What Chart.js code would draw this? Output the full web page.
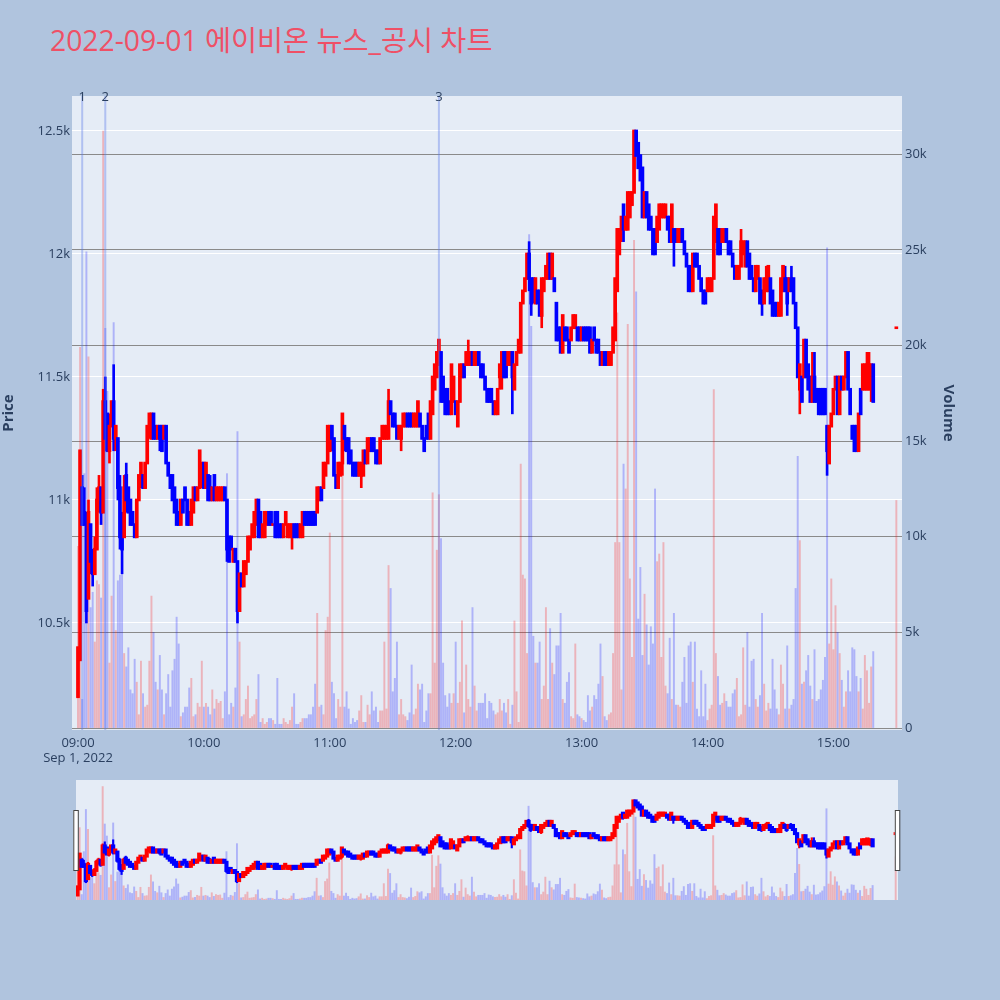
<!DOCTYPE html>
<html><head><meta charset="utf-8">
<script src="https://cdn.jsdelivr.net/npm/chart.js@4.4.1/dist/chart.umd.min.js"></script>
<style>
html,body{margin:0;padding:0;background:#b0c4de;width:1000px;height:1000px;overflow:hidden;}
#title{position:absolute;left:50px;top:26px;font-family:'Open Sans','Noto Sans CJK KR',sans-serif;font-size:28.3px;line-height:28px;color:#ef5066;white-space:nowrap;}
#main{position:absolute;left:0;top:0;}
#slider{position:absolute;left:0;top:780px;}
</style></head><body>
<div id="title">2022-09-01 에이비온 뉴스_공시 차트</div>
<canvas id="main" width="1000" height="780"></canvas>
<canvas id="slider" width="1000" height="120"></canvas>
<script>
// ---------- data (1-minute candles, 09:00 .. 15:19, plus 15:30 closing auction) ----------
const sessionStart = '09:00';
const auctionTime = '15:30';
const dateLabel = 'Sep 1, 2022';
const xTickLabels = ['09:00','10:00','11:00','12:00','13:00','14:00','15:00'];
const priceTicks = [10500, 11000, 11500, 12000, 12500];
const volumeTicksK = [0, 5, 10, 15, 20, 25, 30];
const newsTimes = ['09:02', '09:13', '11:52'];
const newsLabels = ['1', '2', '3'];

const open = [
10200,10350,11050,10950,10900,10600,10900,10750,10700,10800,
11000,11050,10950,11400,11350,11200,11300,11400,11250,11250,
11050,10900,10850,11100,11050,11000,10950,10900,10850,11000,
11100,11100,11050,11150,11300,11250,11350,11300,11250,11300,
11300,11250,11300,11150,11100,11100,11050,11000,10950,10900,
11000,11050,11000,10950,10900,10950,11050,11000,11050,11100,
11150,11050,11100,11050,11000,11100,11000,11000,11000,11000,
11050,11000,10850,10850,10750,10800,10750,10550,10700,10650,
10700,10750,10800,10850,10850,10900,11000,10950,10850,10850,
10900,10950,10950,10900,10950,10950,10900,10900,10850,10900,
10850,10850,10850,10900,10900,10900,10850,10850,10950,10950,
10950,10950,10950,10950,10950,11000,11050,11050,11100,11150,
11200,11300,11250,11100,11050,11100,11150,11300,11250,11250,
11200,11150,11150,11150,11100,11100,11100,11200,11150,11200,
11250,11250,11200,11200,11150,11250,11250,11250,11250,11400,
11350,11350,11300,11250,11250,11300,11300,11350,11350,11350,
11300,11300,11300,11350,11300,11250,11300,11350,11250,11350,
11450,11500,11550,11600,11500,11450,11450,11400,11350,11400,
11400,11300,11400,11500,11550,11550,11550,11550,11600,11550,
11550,11600,11550,11550,11500,11450,11450,11450,11400,11350,
11350,11500,11500,11600,11600,11550,11550,11600,11450,11550,
11600,11600,11800,11850,11900,12000,11900,11900,11800,11850,
11850,11750,11850,11900,11900,12000,11900,11900,11800,11700,
11700,11600,11700,11700,11650,11650,11700,11700,11700,11700,
11650,11700,11700,11700,11700,11600,11700,11650,11650,11600,
11550,11600,11600,11550,11550,11600,11650,11850,12000,12100,
12200,12100,12100,12150,12200,12250,12500,12450,12400,12350,
12150,12250,12200,12150,12100,12100,12050,12100,12150,12150,
12150,12150,12150,12050,12100,12100,12050,12050,12100,12050,
12000,11950,11950,11850,12000,12000,11950,11900,11850,11850,
11850,11850,11850,11900,12050,12100,12100,12050,12050,12100,
12050,12050,12000,11950,11900,11900,11950,12000,11950,12050,
12000,11950,11900,11850,11900,11900,11850,11800,11850,11850,
11900,11850,11800,11800,11750,11750,11850,11900,11900,11850,
11900,11900,11800,11700,11450,11500,11500,11650,11550,11500,
11400,11500,11450,11450,11450,11450,11450,11300,11150,11300,
11350,11450,11500,11350,11500,11450,11500,11600,11450,11300,
11300,11300,11200,11450,11450,11450,11450,11450,11450,11550,
11700];
const high = [
10400,11200,11100,11050,10950,11000,10900,10800,10850,11050,
11100,11050,11450,11500,11350,11350,11400,11550,11300,11250,
11100,10950,11100,11150,11050,11000,10950,10900,11000,11100,
11150,11100,11150,11300,11350,11350,11350,11300,11300,11300,
11300,11300,11300,11150,11100,11100,11050,11000,10950,11000,
11000,11050,11000,10950,11000,11050,11050,11050,11200,11150,
11150,11150,11100,11100,11050,11100,11050,11050,11050,11050,
11050,11000,10850,10850,10800,10800,10750,10700,10700,10750,
10750,10850,10850,10900,10950,11000,11000,10950,10900,10950,
10950,10950,10950,10900,10950,10950,10900,10900,10900,10950,
10900,10900,10900,10900,10900,10900,10900,10950,10950,10950,
10950,10950,10950,10950,11050,11050,11050,11150,11150,11300,
11300,11300,11250,11100,11150,11150,11350,11300,11250,11250,
11200,11150,11150,11150,11150,11150,11200,11200,11250,11250,
11250,11250,11200,11200,11250,11300,11300,11300,11450,11400,
11350,11350,11300,11300,11300,11350,11350,11350,11350,11350,
11350,11350,11400,11350,11300,11250,11300,11350,11400,11500,
11550,11600,11650,11600,11500,11450,11450,11400,11550,11500,
11400,11400,11550,11550,11550,11600,11650,11600,11600,11600,
11600,11600,11550,11550,11500,11450,11450,11450,11400,11400,
11450,11550,11600,11600,11600,11600,11600,11600,11550,11600,
11650,11800,11850,11900,12000,12050,11900,11900,11900,11850,
11850,11900,11900,11950,12000,12000,12000,11900,11800,11700,
11700,11750,11700,11700,11650,11700,11750,11750,11700,11700,
11700,11700,11700,11700,11700,11650,11700,11650,11650,11600,
11600,11600,11600,11600,11600,11700,11900,12100,12100,12150,
12200,12150,12250,12250,12250,12500,12500,12450,12400,12350,
12250,12250,12200,12150,12100,12100,12150,12200,12200,12200,
12200,12150,12150,12200,12100,12100,12100,12100,12100,12050,
12000,11950,11950,12000,12000,12000,11950,11900,11850,11850,
11900,11900,11900,12150,12200,12100,12100,12100,12100,12100,
12050,12050,12000,11950,11950,11950,12100,12050,12050,12050,
12000,11950,11900,11950,11950,11900,11850,11900,11950,11950,
11900,11850,11800,11800,11800,11900,11950,11950,11900,11900,
11950,11900,11800,11700,11550,11500,11650,11650,11550,11500,
11600,11600,11450,11450,11450,11450,11450,11300,11300,11350,
11450,11500,11500,11500,11500,11500,11600,11600,11450,11300,
11300,11300,11350,11450,11550,11550,11600,11600,11550,11550,
11700];
const low = [
10200,10350,10900,10900,10500,10600,10700,10650,10700,10800,
10950,10900,10950,11200,11200,11150,11300,11200,11200,11000,
10800,10700,10850,10950,10950,10900,10900,10850,10850,11000,
11050,11050,11050,11150,11250,11250,11250,11250,11250,11200,
11200,11250,11150,11100,11050,11000,10950,10900,10900,10900,
10950,11000,10900,10900,10900,10950,11000,11000,11050,11050,
11050,11050,11000,11000,11000,11000,11000,11000,11000,11000,
11000,10750,10750,10800,10750,10750,10500,10550,10650,10650,
10700,10750,10800,10850,10850,10900,10850,10850,10850,10850,
10900,10900,10900,10900,10850,10850,10850,10850,10850,10900,
10850,10850,10800,10850,10850,10850,10850,10850,10900,10900,
10900,10900,10900,10900,10950,11000,11000,11050,11100,11150,
11200,11200,11100,11050,11050,11100,11100,11200,11200,11150,
11150,11100,11100,11100,11100,11050,11100,11150,11150,11200,
11200,11200,11150,11150,11150,11250,11250,11250,11250,11350,
11300,11300,11250,11250,11200,11300,11300,11300,11300,11300,
11300,11300,11300,11300,11250,11200,11250,11250,11250,11350,
11450,11500,11550,11400,11400,11350,11350,11350,11350,11400,
11350,11300,11400,11500,11500,11550,11550,11550,11550,11550,
11550,11550,11500,11500,11450,11400,11400,11400,11350,11350,
11350,11450,11450,11500,11500,11550,11550,11350,11450,11550,
11600,11600,11800,11850,11900,11850,11750,11800,11800,11800,
11750,11700,11850,11900,11900,11900,11900,11850,11650,11650,
11600,11600,11650,11650,11600,11650,11700,11700,11650,11650,
11650,11650,11650,11650,11600,11600,11650,11600,11600,11550,
11550,11550,11550,11550,11550,11600,11650,11850,12000,12050,
12050,12100,12100,12150,12200,12250,12400,12350,12300,12150,
12150,12150,12100,12100,12000,12000,12050,12100,12150,12150,
12150,12100,12050,12050,11950,12050,12050,12050,12050,12000,
11950,11850,11850,11850,11950,11950,11900,11850,11800,11800,
11850,11850,11850,11900,12050,12000,12000,12050,12050,12050,
12000,12000,11950,11900,11900,11900,11950,12000,11950,11950,
11900,11900,11850,11850,11900,11800,11750,11800,11850,11850,
11800,11750,11750,11750,11750,11750,11850,11850,11750,11850,
11850,11800,11700,11500,11350,11400,11500,11500,11450,11400,
11400,11400,11400,11350,11350,11350,11350,11100,11150,11300,
11350,11450,11350,11350,11450,11450,11500,11450,11350,11250,
11200,11200,11200,11350,11450,11450,11450,11450,11400,11400,
11700];
const close = [
10400,11200,10900,10900,10550,10950,10750,10700,10800,11000,
11050,10950,11400,11250,11200,11300,11400,11250,11300,11050,
10850,10800,11050,11000,10950,10900,10900,10850,11000,11100,
11150,11050,11150,11300,11350,11350,11250,11250,11300,11250,
11200,11300,11150,11100,11050,11000,10950,10900,10900,11000,
10950,11000,10900,10900,11000,11050,11000,11050,11200,11150,
11050,11150,11000,11000,11050,11000,11050,11050,11050,11050,
11000,10800,10750,10800,10800,10750,10550,10700,10650,10750,
10750,10850,10850,10900,10950,11000,10850,10850,10900,10950,
10950,10900,10900,10900,10850,10850,10850,10850,10900,10950,
10900,10900,10900,10850,10850,10850,10900,10950,10900,10900,
10900,10900,10900,10900,11050,11050,11000,11150,11150,11300,
11300,11250,11100,11050,11150,11150,11350,11250,11200,11150,
11150,11100,11100,11100,11150,11150,11200,11150,11250,11250,
11200,11200,11150,11150,11250,11300,11300,11300,11400,11350,
11300,11300,11250,11300,11300,11350,11350,11300,11300,11300,
11350,11350,11400,11300,11250,11200,11250,11250,11400,11500,
11550,11600,11650,11400,11400,11350,11350,11350,11550,11500,
11350,11400,11550,11550,11500,11600,11600,11600,11550,11600,
11600,11550,11500,11500,11450,11400,11400,11400,11350,11400,
11450,11550,11600,11500,11500,11600,11600,11500,11550,11600,
11650,11800,11850,11900,12000,11900,11800,11850,11900,11800,
11750,11900,11900,11950,12000,11900,12000,11850,11650,11650,
11600,11750,11650,11650,11600,11700,11750,11750,11650,11650,
11700,11650,11650,11650,11600,11650,11650,11600,11600,11550,
11600,11550,11550,11600,11600,11700,11900,12100,12100,12150,
12100,12150,12250,12250,12250,12500,12400,12350,12300,12150,
12250,12150,12100,12100,12000,12000,12150,12200,12200,12200,
12200,12100,12050,12200,12050,12050,12100,12100,12050,12000,
11950,11850,11850,12000,11950,11950,11900,11850,11800,11800,
11900,11900,11900,12150,12200,12000,12000,12100,12100,12050,
12000,12000,11950,11900,11950,11950,12050,12050,12050,11950,
11900,11900,11850,11950,11950,11800,11800,11900,11900,11950,
11800,11750,11750,11750,11800,11900,11950,11850,11800,11900,
11850,11800,11700,11500,11550,11400,11650,11500,11450,11400,
11500,11400,11400,11350,11350,11350,11350,11200,11300,11350,
11450,11500,11350,11500,11450,11500,11600,11450,11350,11250,
11200,11200,11350,11350,11550,11550,11550,11550,11550,11400,
11700];
// volume in thousands of shares
const volumeK = [
9.5,19.9,1.5,13.3,24.9,19.4,6.3,7.1,4.5,7.7,
7.5,6.8,31.2,20.9,17.6,3.4,6.9,21.2,5.1,7.7,
8.0,8.3,3.9,3.2,4.2,2.0,1.8,3.6,2.4,0.7,
3.5,1.8,1.1,1.2,3.5,6.9,5.0,2.4,2.0,3.8,
2.0,0.7,1.8,2.8,1.1,3.0,3.6,5.8,4.4,0.6,
0.8,1.1,1.1,2.1,2.6,0.6,0.7,1.3,1.1,3.5,
1.1,1.3,1.1,0.7,2.0,1.0,1.5,1.3,1.4,0.5,
1.9,13.3,0.7,1.3,1.1,2.1,15.5,4.5,0.6,0.7,
1.5,2.2,0.5,0.6,0.7,1.5,2.8,0.3,0.5,0.2,
0.3,0.5,0.5,0.4,0.2,2.6,0.2,0.2,0.5,0.3,
0.2,0.4,1.1,1.8,0.2,0.2,0.3,0.5,0.5,0.5,
0.7,0.7,1.1,2.3,6.0,1.1,1.2,0.7,5.1,5.8,
10.2,2.4,1.8,0.5,1.5,1.1,13.3,1.1,1.9,1.0,
0.2,0.5,0.3,0.4,0.9,1.7,0.3,0.3,1.2,0.7,
1.9,0.9,1.1,0.3,0.9,0.9,4.5,1.0,8.5,7.3,
1.9,2.6,4.5,0.7,1.5,0.7,0.6,0.4,0.8,3.3,
0.7,1.0,2.3,2.0,2.3,0.3,0.9,1.8,1.8,12.3,
3.4,9.3,12.2,9.9,3.4,1.7,1.1,1.8,1.3,1.8,
4.5,1.3,2.4,5.6,0.8,3.3,1.5,1.1,6.3,2.2,
0.9,1.3,1.3,1.3,1.8,0.5,1.4,1.3,0.9,0.7,
0.8,1.5,0.9,1.3,0.8,1.5,0.2,1.2,5.6,1.9,
0.3,13.8,8.0,7.8,3.9,25.8,21.0,4.8,3.4,3.4,
4.5,1.5,2.2,6.3,1.5,5.2,3.4,2.8,4.3,4.3,
6.0,1.5,1.3,2.4,2.9,0.6,0.5,4.4,0.7,0.6,
0.5,0.4,0.3,1.7,0.9,1.1,1.7,1.5,2.3,4.4,
2.7,0.6,0.4,0.7,0.8,3.9,9.7,21.7,9.7,2.0,
13.8,12.5,21.1,7.8,3.7,25.5,22.8,5.7,8.4,3.8,
7.0,5.4,3.3,5.3,4.4,12.5,8.7,9.1,3.7,9.7,
2.2,1.8,4.7,1.5,6.0,1.2,1.2,1.1,2.4,3.7,
1.3,4.3,4.5,2.4,4.5,1.0,0.6,3.0,0.6,2.3,
0.4,1.0,1.2,17.7,3.9,2.7,1.2,1.3,1.8,1.4,
1.1,1.1,1.8,2.0,2.6,0.6,0.7,4.2,1.2,5.0,
1.1,3.5,3.6,1.5,1.1,1.7,6.0,2.3,0.9,1.3,
1.0,3.6,2.0,1.0,0.7,3.3,2.3,1.0,4.3,1.0,
1.2,1.5,7.3,14.2,9.8,2.3,2.4,3.0,3.8,2.2,
1.5,4.1,1.4,1.5,2.0,2.5,3.7,25.1,4.4,7.8,
4.1,6.4,5.0,3.9,2.5,1.1,1.9,3.0,1.9,4.2,
4.1,2.7,1.9,2.6,1.0,3.8,3.0,1.3,3.2,4.0,
11.9];

// ---------- helpers ----------
function toMin(t){ const [h,m]=t.split(':').map(Number); const [h0,m0]=sessionStart.split(':').map(Number); return (h*60+m)-(h0*60+m0); }
const regularCount = open.length - 1;
const xs = [];
for (let i = 0; i < regularCount; i++) xs.push(i);
xs.push(toMin(auctionTime));

const FONT = "'Open Sans','Noto Sans CJK KR',sans-serif";
const TXT = '#2a3f5f';
const UP = '#ff0000', DOWN = '#0000ff';
const UPV = 'rgba(255,0,0,0.24)', DOWNV = 'rgba(0,0,255,0.24)';
const isUp = open.map((o,i)=> close[i] >= o);
const candleColor = isUp.map(u => u ? UP : DOWN);
const volColor = isUp.map(u => u ? UPV : DOWNV);

// pad: visual outline (in price units) so thin/flat candles stay visible like stroked candle outlines
function bodyData(pad){ return xs.map((x,i)=>{ const a=Math.min(open[i],close[i]), b=Math.max(open[i],close[i]); return {x, y:[a-pad,b+pad]}; }); }
function wickData(){ return xs.map((x,i)=>({x, y:[low[i], high[i]]})); }
function volData(){ return xs.map((x,i)=>({x, y: volumeK[i]})); }

function makeDatasets(bodyW, wickW, volW, pad){
  return [
    {type:'bar', data: volData(), backgroundColor: volColor, barThickness: volW, yAxisID:'y2', order:3, grouped:false},
    {type:'bar', data: wickData(), backgroundColor: candleColor, barThickness: wickW, yAxisID:'y', order:2, grouped:false},
    {type:'bar', data: bodyData(pad), backgroundColor: candleColor, barThickness: bodyW, yAxisID:'y', order:1, grouped:false}
  ];
}

const plotBg = {
  id:'plotBg',
  beforeDraw(chart){ const {ctx, chartArea:a} = chart; ctx.save(); ctx.fillStyle='#e5ecf6'; ctx.fillRect(a.left, a.top, a.right-a.left, a.bottom-a.top); ctx.restore(); }
};
const newsLines = {
  id:'newsLines',
  afterDatasetsDraw(chart){
    const {ctx, chartArea:a, scales} = chart; ctx.save();
    newsTimes.forEach((t,k)=>{
      const px = scales.x.getPixelForValue(toMin(t));
      ctx.strokeStyle='rgba(90,120,235,0.38)'; ctx.lineWidth=2;
      ctx.beginPath(); ctx.moveTo(px, a.top); ctx.lineTo(px, a.bottom); ctx.stroke();
      ctx.fillStyle=TXT; ctx.font='13px '+FONT; ctx.textAlign='center'; ctx.textBaseline='middle';
      ctx.fillText(newsLabels[k], px, a.top+1);
    });
    ctx.restore();
  }
};

new Chart(document.getElementById('main'), {
  type:'bar',
  data:{ datasets: makeDatasets(3, 2, 1.3, 4) },
  options:{
    responsive:false, animation:false, events:[],
    layout:{ padding:{ top:96, right:43, left:0, bottom:0 } },
    plugins:{ legend:{display:false}, tooltip:{enabled:false} },
    scales:{
      x:{ type:'linear', min:-2.86, max:392.7, offset:false,
          grid:{display:false, drawTicks:false}, border:{display:false},
          afterBuildTicks: s => { s.ticks = xTickLabels.map(l => ({value: toMin(l)})); },
          afterFit: s => { s.height = 50; },
          ticks:{ autoSkip:false, maxRotation:0, padding:5, color:TXT, font:{family:FONT, size:13},
                  callback:(v,i)=> i===0 ? [xTickLabels[i], dateLabel] : xTickLabels[i] } },
      y:{ position:'left', min:10065, max:12642,
          grid:{color:'#ffffff', lineWidth:1, drawTicks:false}, border:{display:false},
          afterBuildTicks: s => { s.ticks = priceTicks.map(v => ({value:v})); },
          afterFit: s => { s.width = 72; },
          ticks:{ padding:2, color:TXT, font:{family:FONT, size:13}, callback: v => (v/1000)+'k' },
          title:{ display:true, text:'Price', color:TXT, font:{family:FONT, size:15, weight:'bold'}, padding:0 } },
      y2:{ position:'right', min:-0.1, max:33.04,
          grid:{color:'#8a8a8a', lineWidth:1, drawTicks:false}, border:{display:false},
          afterBuildTicks: s => { s.ticks = volumeTicksK.map(v => ({value:v})); },
          afterFit: s => { s.width = 55; },
          ticks:{ padding:3, color:TXT, font:{family:FONT, size:13}, callback: v => v===0 ? '0' : v+'k' },
          title:{ display:true, text:'Volume', color:TXT, font:{family:FONT, size:15, weight:'bold'}, padding:0 } }
    }
  },
  plugins:[plotBg, newsLines]
});

const handles = {
  id:'handles',
  afterDraw(chart){
    const {ctx, chartArea:a} = chart; ctx.save();
    ctx.fillStyle='#ffffff'; ctx.strokeStyle='#444444'; ctx.lineWidth=1;
    [a.left-2.7, a.right-3.2].forEach(x0=>{ ctx.fillRect(x0, 30, 4.5, 60); ctx.strokeRect(x0+0.5, 30.5, 4.5, 60); });
    ctx.restore();
  }
};

new Chart(document.getElementById('slider'), {
  type:'bar',
  data:{ datasets: makeDatasets(3.5, 1.5, 1.3, 28) },
  options:{
    responsive:false, animation:false, events:[],
    layout:{ padding:{ top:0, right:102, left:76, bottom:0 } },
    plugins:{ legend:{display:false}, tooltip:{enabled:false} },
    scales:{
      x:{ type:'linear', display:false, min:-0.72, max:391.1, offset:false },
      y:{ display:false, min:10078, max:13010 },
      y2:{ display:false, position:'right', min:0, max:33 }
    }
  },
  plugins:[plotBg, handles]
});
</script>
</body></html>
